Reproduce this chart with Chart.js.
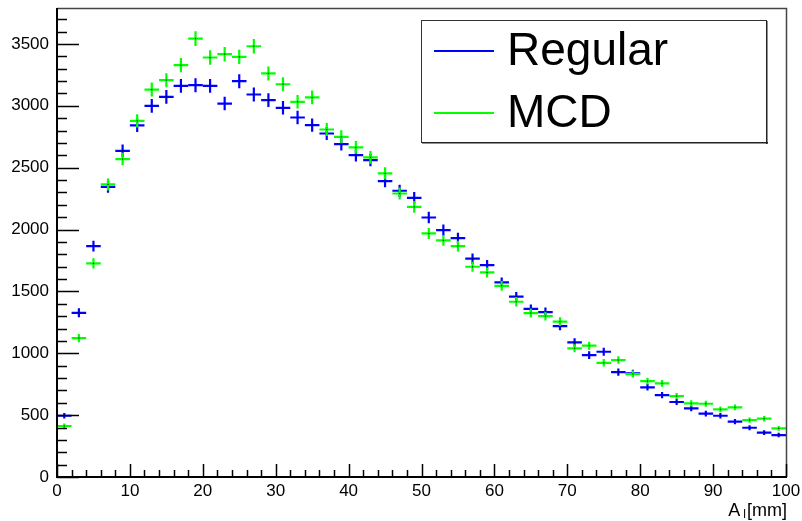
<!DOCTYPE html>
<html>
<head>
<meta charset="utf-8">
<script src="https://cdn.jsdelivr.net/npm/chart.js@4/dist/chart.umd.min.js"></script>
<style>
  html, body { margin: 0; padding: 0; background: #fff; }
  #box { width: 802px; height: 521px; }
</style>
</head>
<body>
<div id="box"><canvas id="histo"></canvas></div>
<script>
// bin centres (bins of width 2 mm)
var binCenters = [1,3,5,7,9,11,13,15,17,19,21,23,25,27,29,31,33,35,37,39,41,43,45,47,49,
                  51,53,55,57,59,61,63,65,67,69,71,73,75,77,79,81,83,85,87,89,91,93,95,97,99];
var regular = [495,1327,1866,2345,2636,2841,2999,3072,3161,3166,3161,3018,3199,3091,3045,2983,2905,2843,2776,2690,
               2601,2561,2391,2313,2256,2097,1995,1930,1764,1712,1573,1457,1358,1333,1220,1088,985,1012,848,838,
               725,662,606,555,512,495,447,398,358,339];
var mcd = [412,1123,1726,2364,2569,2878,3131,3207,3328,3543,3390,3417,3395,3481,3261,3174,3032,3067,2808,2749,
           2663,2583,2453,2291,2183,1968,1912,1866,1699,1653,1545,1416,1325,1300,1255,1040,1061,923,945,832,
           775,757,654,595,592,547,563,460,471,393];
var xTickLabels = [0,10,20,30,40,50,60,70,80,90,100];
var yTickLabels = [0,500,1000,1500,2000,2500,3000,3500];
var seriesNames = ['Regular', 'MCD'];
var seriesColors = ['#0000ff', '#00ff00'];
var binWidth = 2;

function points(vals) {
  return binCenters.map(function (x, i) { return { x: x, y: vals[i] }; });
}

// ROOT style markers: horizontal bin-width bar + vertical sqrt(N) error
var errorBars = {
  id: 'errorBars',
  afterDatasetsDraw: function (chart) {
    var ctx = chart.ctx, xs = chart.scales.x, ys = chart.scales.y;
    ctx.save();
    ctx.beginPath();
    ctx.rect(chart.chartArea.left, chart.chartArea.top,
             chart.chartArea.right - chart.chartArea.left, chart.chartArea.bottom - chart.chartArea.top);
    ctx.clip();
    chart.data.datasets.forEach(function (ds) {
      ctx.strokeStyle = ds.borderColor;
      ctx.lineWidth = 2.2;
      ds.data.forEach(function (p) {
        var px = xs.getPixelForValue(p.x);
        var py = ys.getPixelForValue(p.y);
        var x0 = xs.getPixelForValue(p.x - binWidth / 2);
        var x1 = xs.getPixelForValue(p.x + binWidth / 2);
        var e = Math.sqrt(p.y);
        var y0 = ys.getPixelForValue(p.y - e);
        var y1 = ys.getPixelForValue(p.y + e);
        ctx.beginPath();
        ctx.moveTo(x0, py); ctx.lineTo(x1, py);
        ctx.moveTo(px, y0); ctx.lineTo(px, y1);
        ctx.stroke();
        ctx.fillStyle = '#000';
        ctx.fillRect(px - 0.5, py - 0.5, 1, 1);
      });
    });
    ctx.restore();
  }
};

// frame, inward ticks, axis title and legend
var rootFrame = {
  id: 'rootFrame',
  afterDraw: function (chart) {
    var ctx = chart.ctx, xs = chart.scales.x, ys = chart.scales.y, a = chart.chartArea;
    ctx.save();
    // top and right thin
    ctx.strokeStyle = '#444';
    ctx.lineWidth = 1.5;
    ctx.beginPath();
    ctx.moveTo(a.left, a.top + 0.5); ctx.lineTo(a.right + 0.5, a.top + 0.5); ctx.lineTo(a.right + 0.5, a.bottom);
    ctx.stroke();
    // axes thick
    ctx.strokeStyle = '#000';
    ctx.lineWidth = 2;
    ctx.beginPath();
    ctx.moveTo(a.left, a.top); ctx.lineTo(a.left, a.bottom); ctx.lineTo(a.right + 1, a.bottom);
    ctx.stroke();
    // x ticks
    ctx.lineWidth = 1.5;
    ctx.beginPath();
    for (var v = 0; v <= 100; v += 2) {
      var px = Math.round(xs.getPixelForValue(v)) + 0.5;
      var len = (v % 10 === 0) ? 13 : 7;
      ctx.moveTo(px, a.bottom); ctx.lineTo(px, a.bottom - len);
    }
    // y ticks
    for (var w = 0; w <= ys.max; w += 100) {
      var py = Math.round(ys.getPixelForValue(w)) + 0.5;
      var l = (w % 500 === 0) ? 22 : 10;
      ctx.moveTo(a.left, py); ctx.lineTo(a.left + l, py);
    }
    ctx.stroke();

    // axis title A_l[mm]
    ctx.fillStyle = '#000';
    ctx.textBaseline = 'alphabetic';
    ctx.textAlign = 'left';
    ctx.font = '18px "Liberation Sans", Arial, sans-serif';
    var mm = '[mm]';
    var wmm = ctx.measureText(mm).width;
    var xEnd = a.right + 1;
    ctx.fillText(mm, xEnd - wmm, 516);
    ctx.font = '12px "Liberation Sans", Arial, sans-serif';
    var wl = ctx.measureText('l').width;
    ctx.fillText('l', xEnd - wmm - wl - 1, 518);
    ctx.font = '18px "Liberation Sans", Arial, sans-serif';
    var wa = ctx.measureText('A').width;
    ctx.fillText('A', xEnd - wmm - wl - 4 - wa, 516);

    // legend
    var lx = 421, ly = 20, lw = 345, lh = 122;
    ctx.fillStyle = '#fff';
    ctx.fillRect(lx, ly, lw, lh);
    ctx.strokeStyle = '#333';
    ctx.lineWidth = 1;
    ctx.strokeRect(lx + 0.5, ly + 0.5, lw, lh);
    ctx.fillStyle = '#222';
    ctx.fillRect(lx + lw, ly + 1, 1.5, lh + 1);
    ctx.fillRect(lx + 1, ly + lh, lw + 1, 1.5);
    ctx.font = '46px "Liberation Sans", Arial, sans-serif';
    ctx.textBaseline = 'middle';
    var rows = [51, 113];
    seriesNames.forEach(function (name, i) {
      ctx.strokeStyle = seriesColors[i];
      ctx.lineWidth = 2.2;
      ctx.beginPath();
      ctx.moveTo(434, rows[i]); ctx.lineTo(494, rows[i]);
      ctx.stroke();
      ctx.fillStyle = '#000';
      ctx.fillText(name, 507, rows[i] + 1);
    });
    ctx.restore();
  }
};

var ctxHisto = document.getElementById('histo').getContext('2d');
var chart = new Chart(ctxHisto, {
  type: 'scatter',
  data: {
    datasets: [
      { label: seriesNames[0], data: points(regular), borderColor: seriesColors[0], backgroundColor: seriesColors[0], pointRadius: 0, showLine: false },
      { label: seriesNames[1], data: points(mcd), borderColor: seriesColors[1], backgroundColor: seriesColors[1], pointRadius: 0, showLine: false }
    ]
  },
  options: {
    responsive: true,
    maintainAspectRatio: false,
    animation: false,
    layout: { padding: { top: 8, right: 16, left: 0, bottom: 0 } },
    plugins: { legend: { display: false }, tooltip: { enabled: false } },
    scales: {
      x: {
        type: 'linear', min: 0, max: 100,
        grid: { display: false, drawTicks: false }, border: { display: false },
        afterBuildTicks: function (s) { s.ticks = xTickLabels.map(function (v) { return { value: v }; }); },
        afterFit: function (s) { s.height = 44; s.paddingLeft = 0; s.paddingRight = 0; },
        ticks: { color: '#000', padding: 4, maxRotation: 0, autoSkip: false,
                 callback: function (v) { return String(v); },
                 font: { family: '"Liberation Sans", Arial, sans-serif', size: 17 } }
      },
      y: {
        type: 'linear', min: 0, max: 3790,
        grid: { display: false, drawTicks: false }, border: { display: false },
        afterBuildTicks: function (s) { s.ticks = yTickLabels.map(function (v) { return { value: v }; }); },
        afterFit: function (s) { s.width = 57; s.paddingTop = 0; s.paddingBottom = 0; },
        ticks: { color: '#000', padding: 8, autoSkip: false,
                 callback: function (v) { return String(v); },
                 font: { family: '"Liberation Sans", Arial, sans-serif', size: 17 } }
      }
    }
  },
  plugins: [errorBars, rootFrame]
});
</script>
</body>
</html>
